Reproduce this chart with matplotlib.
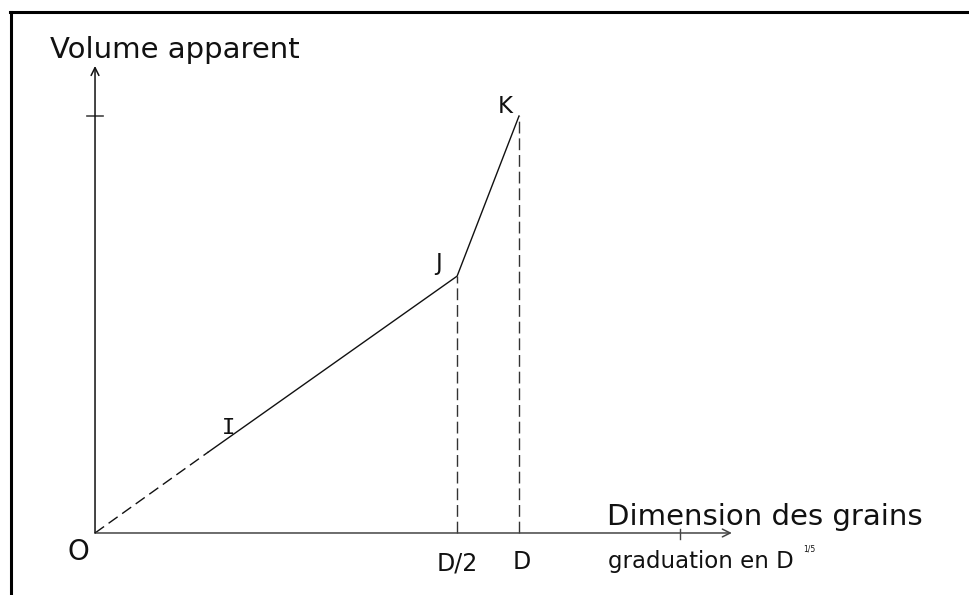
import matplotlib.pyplot as plt
import numpy as np

# points O, I, J (D/2), K (D) en unites de graduation
noms = ["O", "I", "J", "K"]
xs = [0.0, 26.7, 85.4, 100.0]
ys = [0.0, 19.4, 61.6, 100.0]

x_fleche = 150.2
y_fleche = 112.0
x_graduation = 138.0
y_graduation = 100.0

fig = plt.figure(figsize=(9.69, 5.95), dpi=100)
ax = fig.add_axes([0, 0, 1, 1])
ax.set_xlim(-22.41, 206.13)
ax.set_ylim(-14.87, 127.82)
ax.axis("off")

noir = "#111111"

# cadre (haut et gauche)
fig.add_artist(plt.Line2D([10 / 969, 1], [1 - 12 / 595, 1 - 12 / 595], color="black", lw=2.2))
fig.add_artist(plt.Line2D([11 / 969, 11 / 969], [0, 1 - 12 / 595], color="black", lw=2.2))

# axes avec fleches
ax.annotate("", xy=(x_fleche, 0), xytext=(0, 0),
            arrowprops=dict(arrowstyle="->", color="#444444", lw=1.1, mutation_scale=14, shrinkA=0, shrinkB=0))
ax.annotate("", xy=(0, y_fleche), xytext=(0, 0),
            arrowprops=dict(arrowstyle="->", color=noir, lw=1.1, mutation_scale=14, shrinkA=0, shrinkB=0))
ax.plot([x_graduation, x_graduation], [-1.5, 1.0], color="#444444", lw=1)
ax.plot([-1.8, 1.8], [y_graduation, y_graduation], color="#444444", lw=1.2)

# courbe : pointilles de O a I, puis trait plein
ax.plot(xs[:2], ys[:2], color=noir, lw=1, dashes=(8, 4))
ax.plot(xs[1:], ys[1:], color=noir, lw=1)

# verticales pointillees sous J et K
for i in (2, 3):
    ax.plot([xs[i], xs[i]], [0, ys[i]], color="#333333", lw=1, dashes=(8.5, 3.5))

# etiquettes des points
ax.text(xs[0] - 4.0, -1.2, "O", fontsize=20, ha="center", va="top", color=noir)
ax.text(xs[1] + 4.8, ys[1] + 4.3, "I", fontsize=16, ha="center", va="baseline", color=noir,
        family="DejaVu Sans Mono")
ax.text(xs[2] - 4.4, ys[2] + 1.4, "J", fontsize=16.5, ha="center", va="baseline", color=noir)
ax.text(xs[3] - 3.3, ys[3] + 0.8, "K", fontsize=16.5, ha="center", va="baseline", color=noir)
ax.text(xs[2], -8.9, "D/2", fontsize=17, ha="center", va="baseline", color=noir)
ax.text(xs[3] + 0.7, -8.6, "D", fontsize=17, ha="center", va="baseline", color=noir)

# titres des axes
fig.text(50 / 969, 1 - 58 / 595, "Volume apparent", fontsize=21, color=noir, va="baseline")
fig.text(607 / 969, 1 - 525 / 595, "Dimension des grains", fontsize=21, color=noir, va="baseline")
fig.text(608 / 969, 1 - 568 / 595, "graduation en D", fontsize=16.5, color=noir, va="baseline")
fig.text(803 / 969, 1 - 552 / 595, "1/5", fontsize=5.5, color=noir, va="baseline")

fig.savefig("out.png", dpi=100, facecolor="white")
